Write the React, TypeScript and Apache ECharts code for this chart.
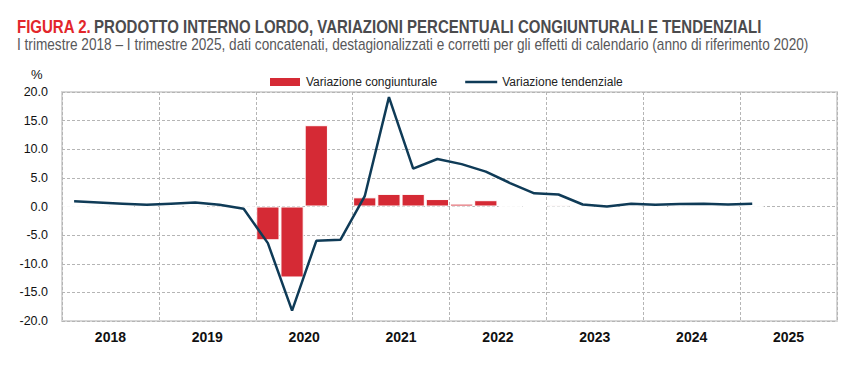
import React, { useEffect, useRef } from "react";
import * as echarts from "echarts";

const years = ["2018", "2019", "2020", "2021", "2022", "2023", "2024", "2025"];
const quarters = years.flatMap((y) => ["I", "II", "III", "IV"].map((q) => `${q} ${y}`));

const congiunturale = [
  0.1, 0.1, 0.0, 0.1,
  0.1, 0.1, -0.25, -0.15,
  -5.9, -12.4, 14.2, 0.0,
  1.6, 2.2, 2.2, 1.3,
  0.5, 1.1, 0.1, 0.0,
  0.2, 0.1, 0.1, 0.1,
  0.1, 0.1, 0.0, 0.1,
  0.1,
];

const tendenziale = [
  0.9, 0.7, 0.5, 0.3,
  0.5, 0.7, 0.3, -0.4,
  -6.4, -18.2, -6.0, -5.8,
  1.8, 19.1, 6.6, 8.3,
  7.4, 6.1, 4.1, 2.3,
  2.1, 0.35, 0.0, 0.5,
  0.3, 0.45, 0.5, 0.35,
  0.5,
];

const yMin = -20;
const yMax = 20;
const yStep = 5;

const titleRed = "FIGURA 2.";
const titleRest = "PRODOTTO INTERNO LORDO, VARIAZIONI PERCENTUALI CONGIUNTURALI E TENDENZIALI";
const subtitle =
  "I trimestre 2018 – I trimestre 2025, dati concatenati, destagionalizzati e corretti per gli effetti di calendario (anno di riferimento 2020)";

const SANS = '"Liberation Sans", Arial, sans-serif';

function measure(text: string, font: string): number {
  const c = document.createElement("canvas").getContext("2d");
  if (!c) return text.length * 8;
  c.font = font;
  return c.measureText(text).width;
}

export default function App() {
  const ref = useRef<HTMLDivElement>(null);
  useEffect(() => {
    if (!ref.current) return;
    const chart = echarts.init(ref.current, undefined, { renderer: "svg" });

    const titleSize = 17.5;
    const subSize = 16;
    const titleW = measure(`${titleRed} ${titleRest}`, `bold ${titleSize}px ${SANS}`);
    const subW = measure(subtitle, `${subSize}px ${SANS}`);
    const titleScale = 746 / titleW;
    const subScale = 792 / subW;

    chart.setOption({
      animation: false,
      backgroundColor: "#ffffff",
      legend: {
        left: 263,
        top: 71,
        itemWidth: 32,
        itemHeight: 10,
        itemGap: 28,
        textStyle: { fontFamily: SANS, fontSize: 12, color: "#222" },
        data: [
          { name: "Variazione congiunturale", icon: "rect" },
          { name: "Variazione tendenziale", icon: "path://M0,0 L32,0 L32,2.6 L0,2.6 Z" },
        ],
      },
      graphic: [
        {
          type: "text",
          x: 17,
          y: 36,
          scaleX: titleScale,
          style: {
            text: `{a|${titleRed}} {b|${titleRest}}`,
            verticalAlign: "bottom",
            rich: {
              a: { fontFamily: SANS, fontSize: titleSize, fontWeight: "bold", fill: "#e2262b" },
              b: { fontFamily: SANS, fontSize: titleSize, fontWeight: "bold", fill: "#4b4b4d" },
            },
          },
        },
        {
          type: "text",
          x: 17,
          y: 53,
          scaleX: subScale,
          style: {
            text: subtitle,
            fontFamily: SANS,
            fontSize: subSize,
            fill: "#58585a",
            verticalAlign: "bottom",
          },
        },
        {
          type: "text",
          left: 31,
          top: 68,
          style: { text: "%", fontFamily: SANS, fontSize: 13, fill: "#111" },
        },
      ],
      grid: {
        left: 62,
        right: 20,
        top: 92,
        bottom: 49,
        show: true,
        borderColor: "#d6d6d6",
        borderWidth: 2,
      },
      xAxis: [
        {
          type: "category",
          data: quarters,
          boundaryGap: true,
          axisLine: { show: false },
          axisTick: { show: false },
          axisLabel: { show: false },
          splitLine: { show: false },
        },
        {
          type: "category",
          data: years,
          position: "bottom",
          boundaryGap: true,
          axisLine: { show: false },
          axisTick: { show: false },
          axisLabel: {
            margin: 9,
            fontFamily: SANS,
            fontSize: 14,
            fontWeight: "bold",
            color: "#111",
          },
          splitLine: {
            show: true,
            interval: 0,
            lineStyle: { color: "#b5b5b5", type: [3, 2], width: 1 },
          },
        },
      ],
      yAxis: {
        type: "value",
        min: yMin,
        max: yMax,
        interval: yStep,
        axisLine: { show: false },
        axisTick: { show: false },
        axisLabel: {
          margin: 14,
          fontFamily: SANS,
          fontSize: 12.5,
          color: "#111",
          formatter: (v: number) => v.toFixed(1),
        },
        splitLine: {
          show: true,
          lineStyle: { color: "#b5b5b5", type: [3, 2], width: 1 },
        },
      },
      series: [
        {
          name: "Variazione congiunturale",
          type: "bar",
          xAxisIndex: 0,
          data: congiunturale,
          barCategoryGap: "4%",
          itemStyle: { color: "#d52a35", borderColor: "#ffffff", borderWidth: 1 },
        },
        {
          name: "Variazione tendenziale",
          type: "line",
          xAxisIndex: 0,
          data: tendenziale,
          symbol: "none",
          lineStyle: { color: "#0f3b57", width: 2.5 },
          itemStyle: { color: "#0f3b57" },
          z: 3,
        },
      ],
    });
    return () => chart.dispose();
  }, []);
  return (
    <div
      ref={ref}
      style={{ position: "absolute", left: 0, top: 0, width: 857, height: 370 }}
    />
  );
}
